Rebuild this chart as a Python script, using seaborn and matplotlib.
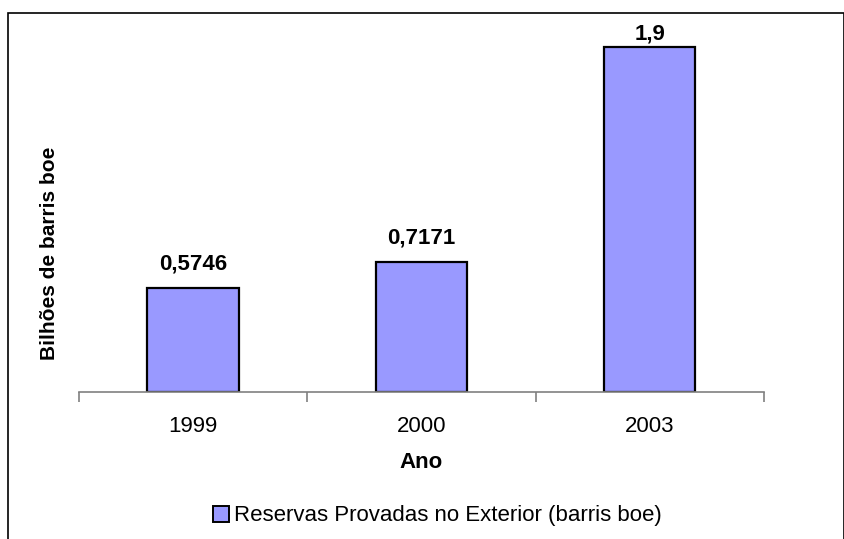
import numpy as np
import pandas as pd
import matplotlib
matplotlib.use("Agg")
import matplotlib.pyplot as plt
import seaborn as sns
from matplotlib.patches import Rectangle, Patch

# Data
anos = ["1999", "2000", "2003"]
reservas = [0.5746, 0.7171, 1.9]
rotulos = ["0,5746", "0,7171", "1,9"]
serie = "Reservas Provadas no Exterior (barris boe)"

BAR_COLOR = "#9999FF"
YMAX = 2.0

sns.set_style("white")
plt.rcParams['font.family'] = ['Liberation Sans', 'DejaVu Sans']
plt.rcParams['text.color'] = 'black'
plt.rcParams['axes.labelcolor'] = 'black'
plt.rcParams['xtick.color'] = 'black'

df = pd.DataFrame({"Ano": anos, "valor": reservas})

fig = plt.figure(figsize=(8.45, 5.39), dpi=100)
ax = fig.add_axes([79 / 845, 1 - 392 / 539, (764 - 79) / 845, (392 - 29) / 539])

sns.barplot(data=df, x="Ano", y="valor", color=BAR_COLOR, width=0.4,
            edgecolor="black", linewidth=1.6, saturation=1, ax=ax)

# value labels, kept inside the plot area like excel does
for i, (v, txt) in enumerate(zip(reservas, rotulos)):
    ax.text(i, min(v + 0.1, YMAX - 0.06), txt, ha="center", va="baseline",
            fontsize=16, fontweight="bold")

ax.set_ylim(0, YMAX)
ax.set_xlim(-0.5, 2.5)
ax.set_yticks([])
for s in ["top", "right", "left"]:
    ax.spines[s].set_visible(False)
ax.spines["bottom"].set_color("#808080")
ax.spines["bottom"].set_linewidth(1.2)

# excel-style ticks between categories
ax.set_xticks([0, 1, 2])
ax.set_xticklabels(anos, fontsize=16)
ax.tick_params(axis="x", which="major", length=0, pad=17)
ax.set_xticks([-0.5, 0.5, 1.5, 2.5], minor=True)
ax.tick_params(axis="x", which="minor", bottom=True, length=7, width=1.2,
               color="#808080", direction="out")

ax.set_xlabel("Ano", fontsize=16, fontweight="bold", labelpad=11)
ax.set_ylabel("Bilhões de barris boe", fontsize=15, fontweight="bold")
ax.yaxis.set_label_coords(-0.029, 0.383)

# legend
handle = Patch(facecolor=BAR_COLOR, edgecolor="black", linewidth=1.4)
fig.legend([handle], [serie], loc="center", bbox_to_anchor=(437 / 845, 1 - 516 / 539),
           frameon=False, fontsize=16, handlelength=0.75, handleheight=0.75,
           handletextpad=0.2)

# outer frame (bottom edge cut off)
frame = Rectangle((8 / 845, -0.05), 1 - 8 / 845 - 1 / 845, 1.05 - 13 / 539,
                  transform=fig.transFigure, fill=False, edgecolor="black",
                  linewidth=1.2, clip_on=False)
fig.patches.append(frame)

fig.savefig("out.png", dpi=100)
